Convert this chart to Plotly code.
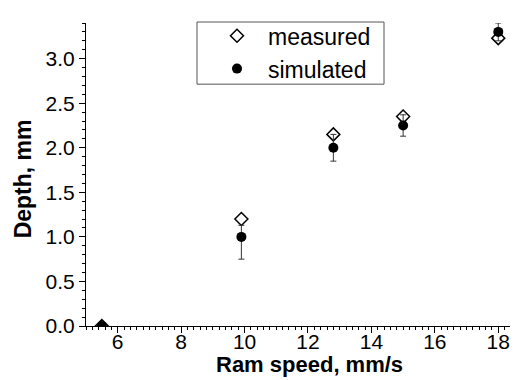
import plotly.graph_objects as go

ram_speed = [5.5, 9.9, 12.8, 15.0, 18.0]
measured = [0.0, 1.2, 2.15, 2.35, 3.23]
simulated = [0.0, 1.0, 2.0, 2.25, 3.3]
simulated_err_up = [0.0, 0.13, 0.15, 0.12, 0.1]
simulated_err_down = [0.0, 0.25, 0.15, 0.12, 0.1]

FONT = "Liberation Sans, Arial, sans-serif"

# The page body adds an 8px offset; figure is sized so the page totals 518x380.
OFF = 8
W, H = 518 - OFF, 380 - OFF
# target plot area in screenshot pixels: x 86..510, y 14..326
L, R, T, B = 86 - OFF, 518 - 510, 14 - OFF, 380 - 326
PW, PH = W - L - R, H - T - B

def px(x):
    return (x - OFF - L) / PW

def py(y):
    return (H - B - (y - OFF)) / PH

fig = go.Figure()
fig.add_trace(go.Scatter(
    x=ram_speed, y=measured, mode="markers", name="measured",
    marker=dict(symbol="diamond-open", size=10, color="black", line=dict(width=1.5, color="black")),
))
fig.add_trace(go.Scatter(
    x=ram_speed, y=simulated, mode="markers", name="simulated",
    marker=dict(symbol="circle", size=10, color="black"),
    error_y=dict(type="data", symmetric=False, array=simulated_err_up, arrayminus=simulated_err_down,
                 color="#333333", thickness=1, width=3),
))

fig.add_shape(type="rect", xref="paper", yref="paper",
              x0=px(197), x1=px(384), y0=py(77), y1=py(13),
              line=dict(color="#555555", width=1), fillcolor="rgba(0,0,0,0)")

fig.add_annotation(text="<b>Ram speed, mm/s</b>", xref="paper", yref="paper",
                   x=px(309), y=py(366), xanchor="center", yanchor="middle",
                   showarrow=False, font=dict(size=22))
fig.add_annotation(text="<b>Depth, mm</b>", xref="paper", yref="paper",
                   x=px(23), y=py(175), xanchor="center", yanchor="middle", textangle=-90,
                   showarrow=False, font=dict(size=23))

fig.update_layout(
    width=W, height=H,
    margin=dict(l=L, r=R, t=T, b=B),
    paper_bgcolor="white", plot_bgcolor="white",
    font=dict(family=FONT, size=21, color="black"),
    showlegend=True,
    legend=dict(
        x=px(206), y=py(5), xanchor="left", yanchor="top",
        borderwidth=0, bgcolor="rgba(0,0,0,0)",
        font=dict(size=23), itemwidth=52, tracegroupgap=0,
    ),
    xaxis=dict(
        range=[5, 18.37], tickvals=[6, 8, 10, 12, 14, 16, 18], automargin=False,
        ticks="outside", ticklen=6, tickwidth=1, tickcolor="black", ticklabelstandoff=-9,
        showline=True, linecolor="black", linewidth=1, showgrid=False, zeroline=False,
        minor=dict(dtick=0.2, tick0=0, ticks="outside", ticklen=3, tickcolor="black", showgrid=False),
    ),
    yaxis=dict(
        range=[0, 3.4], tickvals=[0, 0.5, 1.0, 1.5, 2.0, 2.5, 3.0], tickformat=".1f", automargin=False,
        ticks="outside", ticklen=6, tickwidth=1, tickcolor="black",
        showline=True, linecolor="black", linewidth=1, showgrid=False, zeroline=False,
        minor=dict(dtick=0.1, tick0=0, ticks="outside", ticklen=3, tickcolor="black", showgrid=False),
    ),
)

fig.write_html("out.html")
